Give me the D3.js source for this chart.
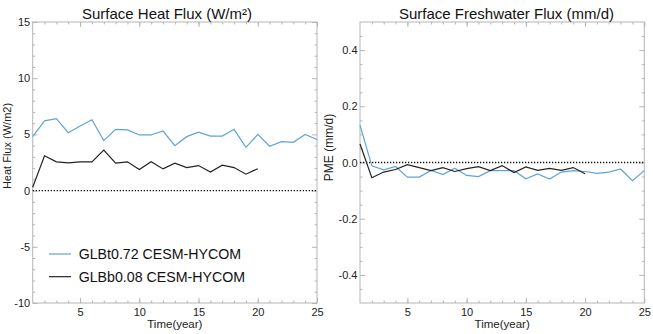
<!DOCTYPE html>
<html><head><meta charset="utf-8">
<script src="https://cdn.jsdelivr.net/npm/d3@7"></script>
<style>
body{margin:0;background:#fff;}
svg{display:block;font-family:"Liberation Sans",Arial,Helvetica,sans-serif;}
</style></head>
<body><svg id="c" width="653" height="334"></svg>
<script>
const years = [1,2,3,4,5,6,7,8,9,10,11,12,13,14,15,16,17,18,19,20,21,22,23,24,25];
const heatT = [4.8,6.2,6.4,5.15,5.75,6.3,4.45,5.45,5.4,4.95,4.95,5.3,4.0,4.8,5.2,4.85,4.85,5.45,3.85,5.0,3.95,4.35,4.3,5.0,4.55];
const heatB = [0.3,3.1,2.56,2.47,2.56,2.56,3.6,2.44,2.56,1.87,2.56,1.93,2.44,2.05,2.23,1.66,2.26,2.05,1.46,1.95];
const pmeT = [0.133,-0.012,-0.026,-0.014,-0.052,-0.052,-0.028,-0.043,-0.02,-0.046,-0.05,-0.029,-0.029,-0.029,-0.058,-0.041,-0.059,-0.034,-0.029,-0.032,-0.039,-0.034,-0.023,-0.065,-0.029];
const pmeB = [0.066,-0.054,-0.034,-0.025,-0.008,-0.018,-0.029,-0.018,-0.032,-0.022,-0.015,-0.029,-0.011,-0.036,-0.016,-0.028,-0.021,-0.028,-0.018,-0.04];
const xTicks = [5,10,15,20,25];
const heatTicks = [15,10,5,0,-5,-10];
const pmeTicks = [0.4,0.2,0.0,-0.2,-0.4];
const seriesNames = ["GLBt0.72 CESM-HYCOM","GLBb0.08 CESM-HYCOM"];
const colors = ["#5fa4d6","#222222"];

const svg = d3.select("#c");
const axisCol = "#b5b5b5";

function panel(opt){
  const {x0,x1,y0,y1,ydom,yticks,yminor,fmt,title,titleX,ylabel,ylabelX,ylabelY,ylabelSize,tsT,tsB} = opt;
  const x = d3.scaleLinear().domain([1,25]).range([x0,x1]);
  const y = d3.scaleLinear().domain(ydom).range([y1,y0]);
  const g = svg.append("g");
  g.append("rect").attr("x",x0).attr("y",y0).attr("width",x1-x0).attr("height",y1-y0)
    .attr("fill","none").attr("stroke",axisCol).attr("stroke-width",1);
  const xMinor = d3.range(2,25);
  const mk = (axisFn, scale, vals, size, tr) => {
    const a = g.append("g").attr("transform",tr).call(axisFn(scale).tickValues(vals).tickSize(size).tickFormat(""));
    a.select(".domain").remove();
    a.selectAll("line").attr("stroke",axisCol);
  };
  mk(d3.axisTop, x, xMinor, 2.5, `translate(0,${y1})`);
  mk(d3.axisTop, x, xTicks, 5, `translate(0,${y1})`);
  mk(d3.axisBottom, x, xMinor, 2.5, `translate(0,${y0})`);
  mk(d3.axisBottom, x, xTicks, 5, `translate(0,${y0})`);
  mk(d3.axisRight, y, yminor, 2.5, `translate(${x0},0)`);
  mk(d3.axisRight, y, yticks, 5, `translate(${x0},0)`);
  mk(d3.axisLeft, y, yminor, 2.5, `translate(${x1},0)`);
  mk(d3.axisLeft, y, yticks, 5, `translate(${x1},0)`);
  const xl = g.append("g").attr("transform",`translate(0,${y1})`)
    .call(d3.axisBottom(x).tickValues(xTicks).tickSize(0).tickPadding(7).tickFormat(d3.format("d")));
  xl.select(".domain").remove();
  xl.selectAll("text").attr("font-size",11).attr("fill","#222").attr("font-family","Liberation Sans, Arial, sans-serif").attr("dy","0.5em");
  const yl = g.append("g").attr("transform",`translate(${x0},0)`)
    .call(d3.axisLeft(y).tickValues(yticks).tickSize(0).tickPadding(2.5).tickFormat(d=>fmt(d).replace("\u2212","-")));
  yl.select(".domain").remove();
  yl.selectAll("text").attr("font-size",11).attr("fill","#222").attr("font-family","Liberation Sans, Arial, sans-serif");
  g.append("line").attr("x1",x0).attr("x2",x1).attr("y1",y(0)).attr("y2",y(0))
    .attr("stroke","#111").attr("stroke-width",1.3).attr("stroke-dasharray","1.3,1.7");
  const line = d3.line().x((d,i)=>x(years[i])).y(d=>y(d));
  g.append("path").datum(tsT).attr("d",line).attr("fill","none").attr("stroke",colors[0]).attr("stroke-width",1.2);
  g.append("path").datum(tsB).attr("d",line).attr("fill","none").attr("stroke",colors[1]).attr("stroke-width",1.2);
  g.append("text").attr("x",titleX).attr("y",18.5).attr("text-anchor","middle").attr("font-size",15).attr("fill","#111").text(title);
  g.append("text").attr("x",(x0+x1)/2).attr("y",327.5).attr("text-anchor","middle").attr("font-size",11.5).attr("fill","#222").text("Time(year)");
  g.append("text").attr("transform",`translate(${ylabelX},${ylabelY}) rotate(-90)`).attr("text-anchor","middle")
    .attr("font-size",ylabelSize).attr("fill","#222").text(ylabel);
  return {x,y};
}

panel({x0:32.7,x1:317,y0:22,y1:303,ydom:[-10,15],yticks:heatTicks,yminor:d3.range(-9,15).filter(v=>v%5!==0),
  fmt:d3.format("d"),title:"Surface Heat Flux (W/m\u00b2)",titleX:167,ylabel:"Heat Flux (W/m2)",ylabelX:11.3,ylabelY:146,ylabelSize:11,tsT:heatT,tsB:heatB});
panel({x0:360,x1:644.3,y0:22,y1:303,ydom:[-0.5,0.5],yticks:pmeTicks,yminor:d3.range(-9,10).map(v=>v*0.05).filter(v=>Math.abs(Math.round(v*100))%20!==0),
  fmt:d3.format(".1f"),title:"Surface Freshwater Flux (mm/d)",titleX:506.5,ylabel:"PME (mm/d)",ylabelX:333.3,ylabelY:147.5,ylabelSize:12,tsT:pmeT,tsB:pmeB});

const leg = svg.append("g");
seriesNames.forEach((n,i)=>{
  const yy = 254 + i*22.7;
  leg.append("line").attr("x1",49).attr("x2",71).attr("y1",yy).attr("y2",yy).attr("stroke",colors[i]).attr("stroke-width",1.2);
  leg.append("text").attr("x",78.7).attr("y",yy+5).attr("font-size",14.2).attr("fill","#111").text(n);
});
</script></body></html>
